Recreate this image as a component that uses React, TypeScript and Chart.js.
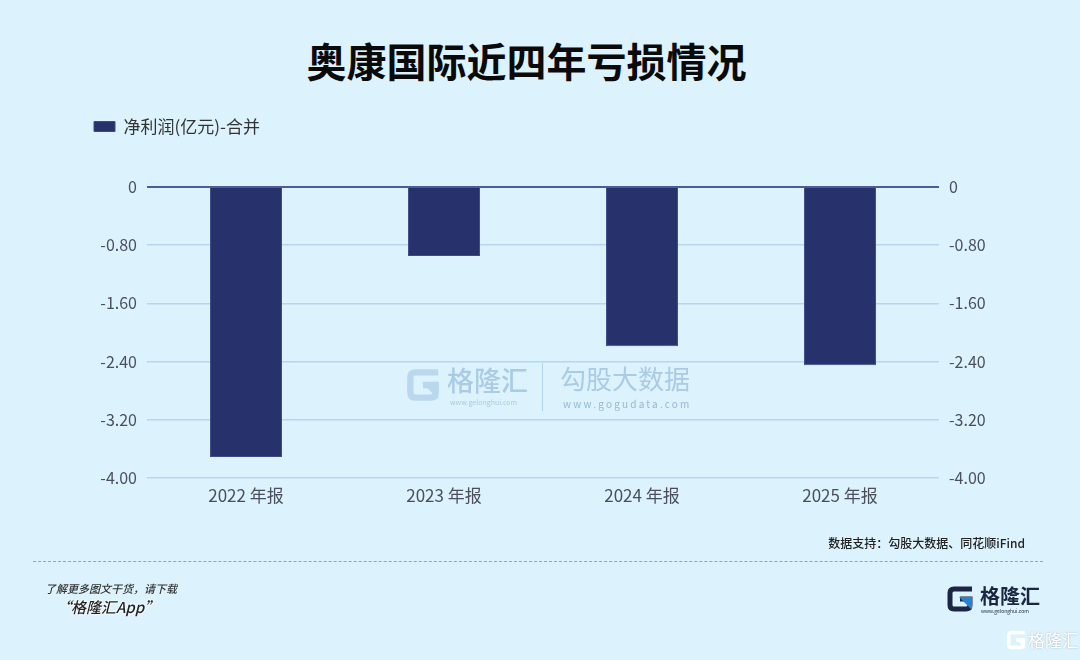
import React, { useEffect, useRef } from "react";
import { Chart, registerables } from "chart.js";

Chart.register(...registerables);

const categories = ["2022 年报", "2023 年报", "2024 年报", "2025 年报"];
const netProfit = [-3.71, -0.95, -2.19, -2.45];
const tickValues = [0, -0.8, -1.6, -2.4, -3.2, -4.0];
const seriesName = "净利润(亿元)-合并";
const titleText = "奥康国际近四年亏损情况";
const sourceText = "数据支持：勾股大数据、同花顺iFind";

const FONT = "'Noto Sans CJK SC', 'Noto Sans', sans-serif";
const BG = "#dcf2fd";
const BAR = "#27316b";

const fmt = (v: number) => (Math.abs(v) < 1e-9 ? "0" : v.toFixed(2));

function GLogo({ size, color, accent }: { size: number; color: string; accent: string }) {
  return (
    <svg width={size} height={size} viewBox="0 0 30 30">
      <path
        d="M27 5 H9 Q5 5 5 9 V21 Q5 25 9 25 H21 Q25 25 25 21 V15 H15"
        fill="none"
        stroke={color}
        strokeWidth={5}
      />
      <path d="M14 13 L27 13 L27 26 Z" fill={accent} />
    </svg>
  );
}

export default function App() {
  const ref = useRef<HTMLCanvasElement | null>(null);

  useEffect(() => {
    if (!ref.current) return;
    const legendGap = {
      id: "legendGap",
      beforeInit(chart: any) {
        const origFit = chart.legend.fit;
        chart.legend.fit = function () {
          origFit.bind(chart.legend)();
          this.height += 42;
        };
      },
    };
    const yCommon = (position: "left" | "right", width: number) => ({
      position,
      min: -4,
      max: 0,
      border: { display: false },
      afterBuildTicks: (scale: any) => {
        scale.ticks = tickValues.map((v) => ({ value: v }));
      },
      afterFit: (scale: any) => {
        scale.width = width;
      },
      ticks: {
        padding: 10,
        color: "#4b4f5c",
        font: { family: FONT, size: 16 },
        callback: (v: any) => fmt(Number(v)),
      },
    });
    const chart = new Chart(ref.current, {
      type: "bar",
      data: {
        labels: categories,
        datasets: [
          {
            label: seriesName,
            data: netProfit,
            backgroundColor: BAR,
            borderColor: "#3d4a8a",
            borderWidth: 1,
            barPercentage: 0.364,
            categoryPercentage: 1,
            yAxisID: "y",
          },
        ],
      },
      options: {
        responsive: false,
        animation: false,
        layout: { padding: { top: 100, left: 76, right: 40, bottom: 142 } },
        plugins: {
          title: { display: false },
          tooltip: { enabled: false },
          legend: {
            display: true,
            position: "top",
            align: "start",
            labels: {
              boxWidth: 21,
              boxHeight: 10,
              padding: 18,
              color: "#333333",
              font: { family: FONT, size: 17 },
            },
          },
        },
        scales: {
          x: {
            grid: { display: false, drawTicks: false },
            border: { display: false },
            afterFit: (scale: any) => {
              scale.height = 40;
            },
            ticks: {
              padding: 7,
              color: "#4b4f5c",
              font: { family: FONT, size: 17 },
            },
          },
          y: {
            ...yCommon("left", 71),
            grid: {
              drawTicks: false,
              color: (c: any) => (c.tick && Math.abs(c.tick.value) < 1e-9 ? "#4d5c92" : "#b7d5ef"),
              lineWidth: (c: any) => (c.tick && Math.abs(c.tick.value) < 1e-9 ? 2 : 1.5),
            },
          },
          y2: {
            ...yCommon("right", 101),
            grid: { display: false, drawTicks: false },
          },
        } as any,
      },
      plugins: [legendGap],
    });
    return () => chart.destroy();
  }, []);

  const nw: React.CSSProperties = { whiteSpace: "nowrap" };

  return (
    <div
      style={{
        position: "absolute",
        left: 0,
        top: 0,
        width: 1080,
        height: 660,
        background: BG,
        overflow: "hidden",
        fontFamily: FONT,
      }}
    >
      <div
        style={{
          position: "absolute",
          left: 0,
          width: 1053,
          top: 36,
          textAlign: "center",
          fontSize: 40,
          fontWeight: 700,
          lineHeight: "48px",
          color: "#0a0a0a",
          ...nw,
        }}
      >
        {titleText}
      </div>
      <canvas ref={ref} width={1080} height={660} style={{ position: "absolute", left: 0, top: 0 }} />

      {/* center watermark */}
      <div style={{ position: "absolute", left: 404, top: 366, opacity: 0.55, pointerEvents: "none" }}>
        <GLogo size={38} color="#9fc3e0" accent="#9fc3e0" />
      </div>
      <div
        style={{
          position: "absolute",
          left: 447,
          top: 364,
          fontSize: 27,
          lineHeight: "32px",
          color: "#a9cbe6",
          fontWeight: 500,
          ...nw,
        }}
      >
        格隆汇
      </div>
      <div style={{ position: "absolute", left: 450, top: 397, fontSize: 7, color: "#a9cbe6", ...nw }}>
        www.gelonghui.com
      </div>
      <div style={{ position: "absolute", left: 542, top: 363, width: 1, height: 48, background: "#b4d2ea" }} />
      <div
        style={{
          position: "absolute",
          left: 560,
          top: 362,
          fontSize: 26,
          lineHeight: "32px",
          color: "#a9cbe6",
          ...nw,
        }}
      >
        勾股大数据
      </div>
      <div
        style={{
          position: "absolute",
          left: 563,
          top: 396,
          fontSize: 10,
          letterSpacing: 2.2,
          color: "#93b8d8",
          ...nw,
        }}
      >
        www.gogudata.com
      </div>

      {/* source */}
      <div
        style={{
          position: "absolute",
          right: 55,
          top: 535,
          fontSize: 12,
          lineHeight: "16px",
          fontWeight: 500,
          color: "#222",
          ...nw,
        }}
      >
        {sourceText}
      </div>
      <div
        style={{
          position: "absolute",
          left: 33,
          top: 561,
          width: 1010,
          height: 0,
          borderTop: "1.5px dashed #9aa4ab",
        }}
      />
      <div
        style={{
          position: "absolute",
          left: 45,
          top: 580,
          fontSize: 11,
          lineHeight: "16px",
          fontStyle: "italic",
          fontWeight: 500,
          color: "#333",
          ...nw,
        }}
      >
        了解更多图文干货，请下载
      </div>
      <div
        style={{
          position: "absolute",
          left: 56,
          top: 597,
          fontSize: 15,
          lineHeight: "20px",
          fontStyle: "italic",
          fontWeight: 500,
          color: "#222",
          textShadow: "0 0 2px #fff, 0 0 2px #fff, 0 0 2px #fff",
          ...nw,
        }}
      >
        “格隆汇App”
      </div>

      {/* bottom-right logo */}
      <div style={{ position: "absolute", left: 945, top: 584 }}>
        <GLogo size={30} color="#1c2541" accent="#2d7fd0" />
      </div>
      <div
        style={{
          position: "absolute",
          left: 980,
          top: 584,
          fontSize: 20,
          lineHeight: "24px",
          fontWeight: 700,
          color: "#1c2541",
          ...nw,
        }}
      >
        格隆汇
      </div>
      <div style={{ position: "absolute", left: 981, top: 607, fontSize: 5, color: "#1c2541", ...nw }}>
        www.gelonghui.com
      </div>
      <div style={{ position: "absolute", left: 1005, top: 629, opacity: 0.95 }}>
        <GLogo size={22} color="#ffffff" accent="#ffffff" />
      </div>
      <div
        style={{
          position: "absolute",
          left: 1028,
          top: 628,
          fontSize: 17,
          lineHeight: "24px",
          color: "#ffffff",
          textShadow: "0 0 2px rgba(0,0,0,0.25)",
          ...nw,
        }}
      >
        格隆汇
      </div>
    </div>
  );
}
